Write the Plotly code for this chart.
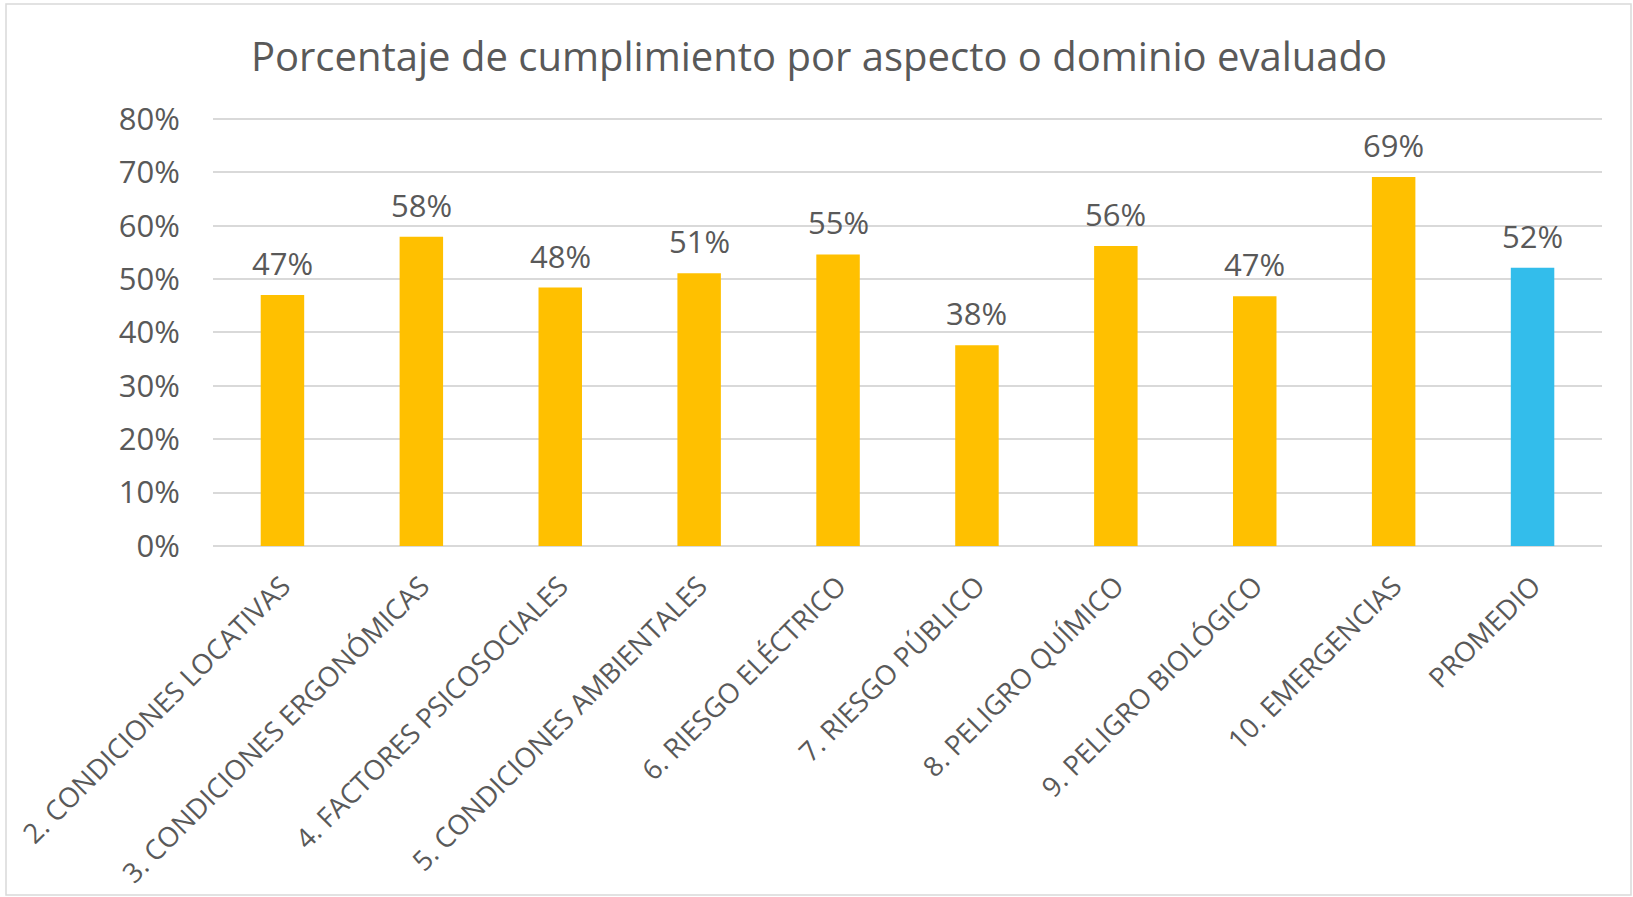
import plotly.graph_objects as go

categories = [
    "2. CONDICIONES LOCATIVAS",
    "3. CONDICIONES ERGONÓMICAS",
    "4. FACTORES PSICOSOCIALES",
    "5. CONDICIONES AMBIENTALES",
    "6. RIESGO ELÉCTRICO",
    "7. RIESGO PÚBLICO",
    "8. PELIGRO QUÍMICO",
    "9. PELIGRO BIOLÓGICO",
    "10. EMERGENCIAS",
    "PROMEDIO",
]
values = [0.470, 0.579, 0.484, 0.511, 0.546, 0.376, 0.562, 0.468, 0.691, 0.521]
bar_colors = ["#FFC000"] * 9 + ["#33BDEB"]
y_ticks = [0, 0.1, 0.2, 0.3, 0.4, 0.5, 0.6, 0.7, 0.8]
title_text = "Porcentaje de cumplimiento por aspecto o dominio evaluado"

FONT = "Open Sans"
TXT = "#595959"
GRID = "#D9D9D9"

W, H = 1633, 897
ML, MR, MT, MB = 213, 31, 117, 351
Y_TOP = 0.8035

fig = go.Figure()
fig.add_trace(go.Bar(
    x=categories, y=values, marker=dict(color=bar_colors, line=dict(width=0)),
    hoverinfo="skip", showlegend=False,
))

for c, v in zip(categories, values):
    fig.add_annotation(x=c, y=v, text=f"{round(v * 100):d}%", showarrow=False,
                       yanchor="bottom", yshift=9,
                       font=dict(family=FONT, size=31, color=TXT))

pw = W - ML - MR
ph = H - MT - MB
fig.add_shape(type="rect", xref="paper", yref="paper",
              x0=(6 - ML) / pw, x1=(W - 2 - ML) / pw,
              y0=-(H - 2 - MT - ph) / ph, y1=1 + (MT - 4) / ph,
              line=dict(color=GRID, width=1.5), fillcolor="rgba(0,0,0,0)", layer="below")

fig.update_layout(
    width=W, height=H,
    margin=dict(l=ML, r=MR, t=MT, b=MB, autoexpand=False),
    paper_bgcolor="white", plot_bgcolor="white",
    bargap=0.687,
    title=dict(text=title_text, x=(819 - ML) / pw, xref="paper", xanchor="center",
               y=1 - 71 / H, yanchor="bottom", yref="container",
               font=dict(family=FONT, size=40, color=TXT)),
    font=dict(family=FONT, color=TXT),
)
fig.update_xaxes(tickangle=-45, tickfont=dict(family=FONT, size=27.5, color=TXT),
                 ticks="outside", ticklen=12, tickcolor="rgba(0,0,0,0)",
                 showline=False, showgrid=False, automargin=False)
fig.update_yaxes(range=[0, Y_TOP], tickvals=y_ticks, tickformat=".0%",
                 tickfont=dict(family=FONT, size=31, color=TXT),
                 showgrid=True, gridcolor=GRID, gridwidth=1.5,
                 zeroline=True, zerolinecolor=GRID, zerolinewidth=1.5,
                 ticks="outside", ticklen=26, tickcolor="rgba(0,0,0,0)",
                 showline=False, automargin=False)

fig.write_html("out.html", config={"displayModeBar": False},
               post_script="document.body.style.margin='0';document.body.style.overflow='hidden';")
